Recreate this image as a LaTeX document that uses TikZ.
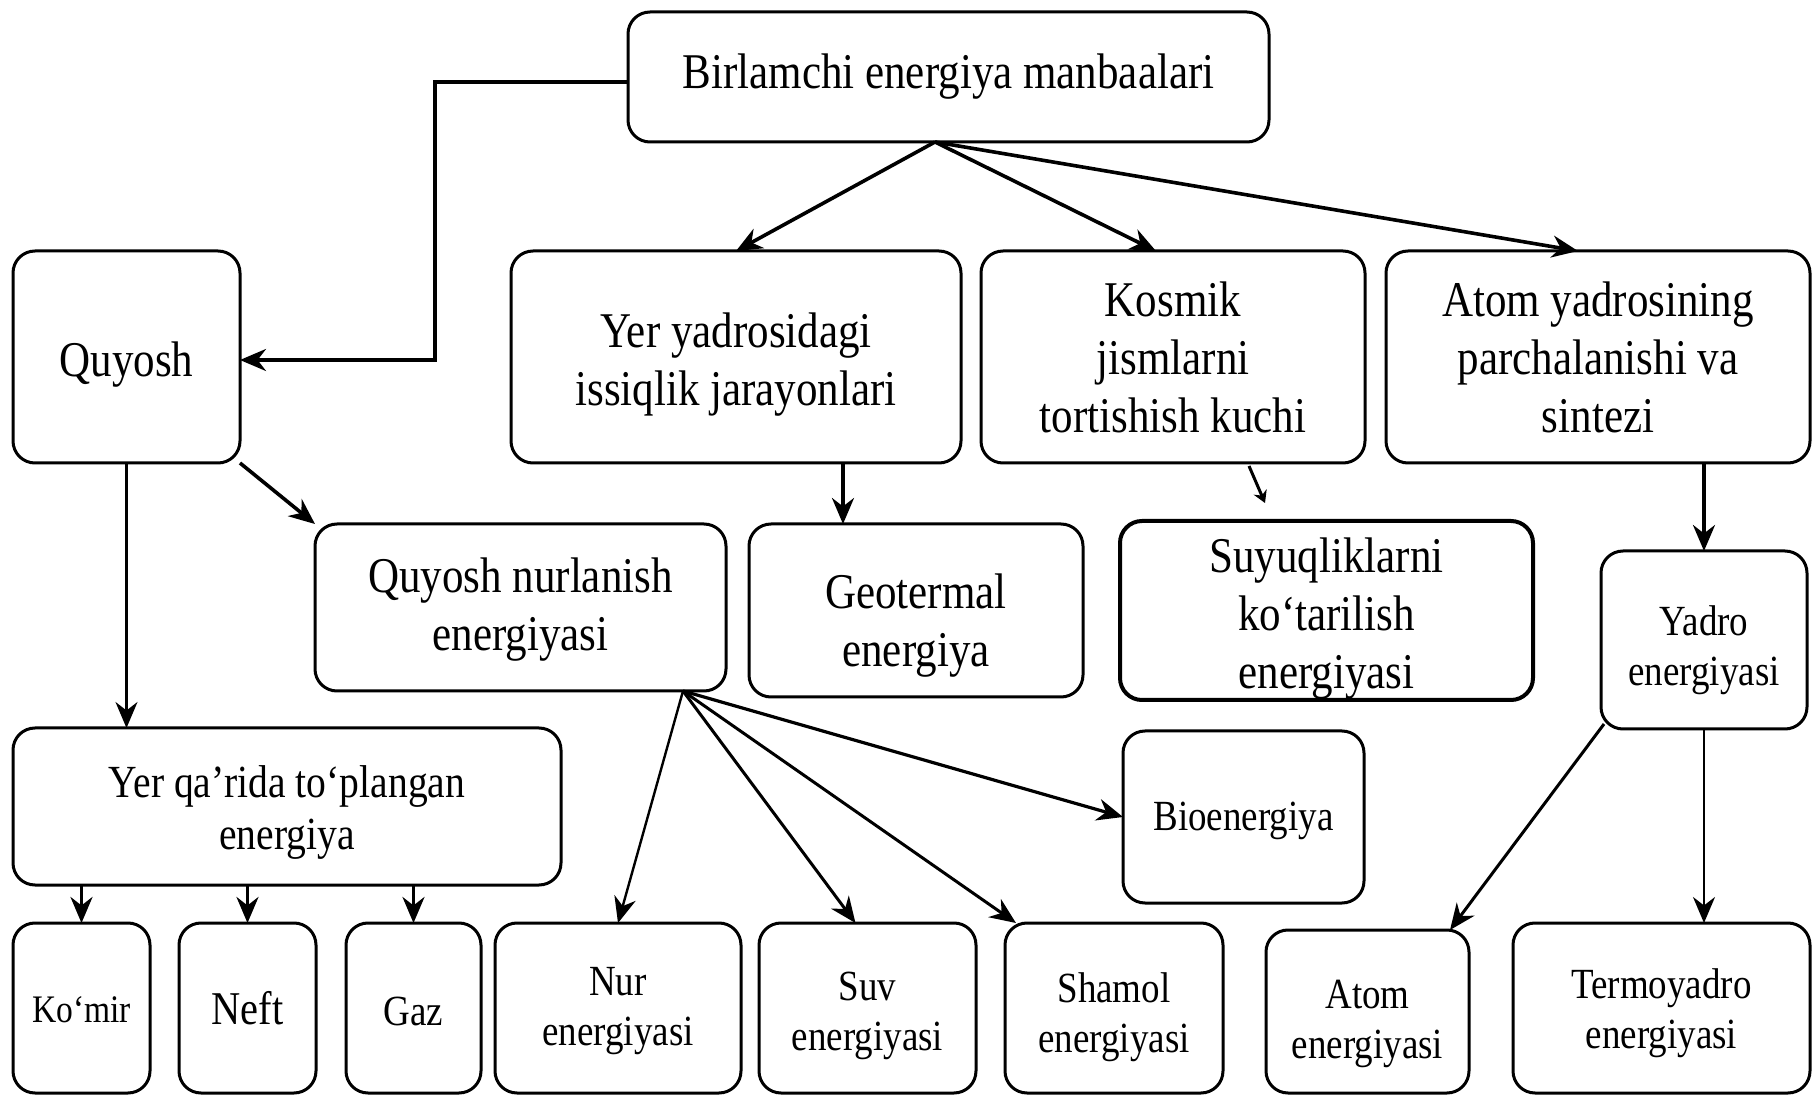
\documentclass[tikz,border=0pt]{standalone}
\usepackage{fontspec}
\setmainfont{Liberation Serif}[FakeStretch=0.86]
\usetikzlibrary{arrows.meta}

% box from corner (x1,y1) to corner (x2,y2), in pixel units, text lowered by dy
% #1 options, #2 name, #3 x1, #4 y1, #5 x2, #6 y2, #7 dy, #8 text
\newcommand\mkbox[8][]{%
  \node[box,minimum width={(#5-#3)*0.5pt},minimum height={(#6-#4)*0.5pt},#1]
    (#2) at ({(#3+#5)/2},{(#4+#6)/2}) {};
  \node[boxtext,#1] (#2-t) at ([yshift={-(#7)*0.5pt}]#2.center) {#8};}

\tikzset{
  box/.style={draw,line width=1.5pt,rounded corners=11pt,fill=white,
    inner sep=0pt,outer sep=0pt},
  boxtext/.style={align=center,inner sep=0pt},
  big/.style={font=\fontsize{25}{29}\selectfont},
  mid/.style={font=\fontsize{23}{26}\selectfont},
  small/.style={font=\fontsize{21.5}{25}\selectfont},
  heavy/.style={line width=1.8pt,-{Stealth[length=13pt,width=11pt]}},
  light/.style={line width=1.2pt,-{Stealth[length=13pt,width=11pt]}},
  tiny/.style={line width=1.5pt,-{Stealth[length=6pt,width=7pt]}}
}

\begin{document}
\begin{tikzpicture}[x=0.5pt,y=-0.5pt]
\fill[white] (0,0) rectangle (1812,1096);
\useasboundingbox (0,0) rectangle (1812,1096);

% top level
\mkbox[big]{birl}{628}{12}{1269}{142}{0}{Birlamchi energiya manbaalari}

% second level
\mkbox[big]{quyosh}{13}{251}{240}{463}{8}{Quyosh}
\mkbox[big]{yyad}{511}{251}{961}{463}{8}{Yer yadrosidagi\\issiqlik jarayonlari}
\mkbox[big]{kosm}{981}{251}{1365}{463}{0}{Kosmik\\jismlarni\\tortishish kuchi}
\mkbox[big]{atomy}{1386}{251}{1810}{463}{0}{Atom yadrosining\\parchalanishi va\\sintezi}

% third level
\mkbox[big]{qnur}{315}{524}{726}{691}{2}{Quyosh nurlanish\\energiyasi}
\mkbox[big]{geo}{749}{524}{1083}{697}{15}{Geotermal\\energiya}
\mkbox[big,line width=2pt]{suyuq}{1120}{521}{1533}{700}{8}{Suyuqliklarni\\ko‘tarilish\\energiyasi}
\mkbox[small]{yadro}{1601}{551}{1807}{729}{10}{Yadro\\energiyasi}

% fourth level
\mkbox[mid]{yerq}{13}{728}{561}{885}{6}{Yer qa’rida to‘plangan\\energiya}
\mkbox[small]{bio}{1123}{731}{1364}{903}{4}{Bioenergiya}

% bottom row
\mkbox[font=\fontsize{19.5}{22}\selectfont]{komir}{13}{923}{150}{1093}{2}{Ko‘mir}
\mkbox[font=\fontsize{23.5}{27}\selectfont]{neft}{179}{923}{316}{1093}{0}{Neft}
\mkbox[small]{gaz}{346}{923}{481}{1093}{3}{Gaz}
\mkbox[small]{nur}{495}{923}{741}{1093}{3}{Nur\\energiyasi}
\mkbox[small]{suv}{759}{923}{976}{1093}{8}{Suv\\energiyasi}
\mkbox[small]{shamol}{1005}{923}{1223}{1093}{9}{Shamol\\energiyasi}
\mkbox[small]{atom}{1266}{930}{1469}{1093}{12}{Atom\\energiyasi}
\mkbox[small]{termo}{1513}{923}{1810}{1093}{5}{Termoyadro\\energiyasi}

% connectors from the primary sources
\coordinate (hub) at ([xshift=-6.75pt]birl.south);
\draw[heavy] ([yshift=-2.5pt]birl.west) -- ++(-193,0) |- ([yshift=-1.5pt]quyosh.east);
\draw[heavy] (hub) -- (yyad.north);
\draw[heavy] (hub) -- ([xshift=-8.5pt]kosm.north);
\draw[heavy] (hub) -- ([xshift=-10pt]atomy.north);

% from the Sun
\draw[light] (quyosh.south) -- (quyosh.south |- yerq.north);
\draw[heavy] (quyosh.south east) -- (qnur.north west);

% second level downwards
\draw[heavy] ([xshift=53.5pt]yyad.south) -- ([xshift=53.5pt]yyad.south |- geo.north);
\coordinate (kend) at (1265,503);
\draw[tiny] ([xshift=38pt,yshift=-1.5pt]kosm.south) -- (kend);
\draw[heavy] (yadro.north |- atomy.south) -- (yadro.north);

% fossil fuels
\draw[heavy] (komir.north |- yerq.south) -- (komir.north);
\draw[heavy] (neft.north |- yerq.south) -- (neft.north);
\draw[heavy] (gaz.north |- yerq.south) -- (gaz.north);

% solar radiation branches
\coordinate (hub2) at ([xshift=-21.5pt]qnur.south east);
\draw[light] (hub2) -- (nur.north);
\draw[light,line width=1.5pt] (hub2) -- ([xshift=-6pt]suv.north);
\draw[light,line width=1.5pt] (hub2) -- ([xshift=5.5pt]shamol.north west);
\draw[light,line width=1.6pt] (hub2) -- (bio.west);

% nuclear branches
\draw[light,line width=1.5pt] ([shift={(1.5pt,2.5pt)}]yadro.south west) -- ([xshift=-9.5pt]atom.north east);
\draw[light] (yadro.south) -- (yadro.south |- termo.north);
\end{tikzpicture}
\end{document}
